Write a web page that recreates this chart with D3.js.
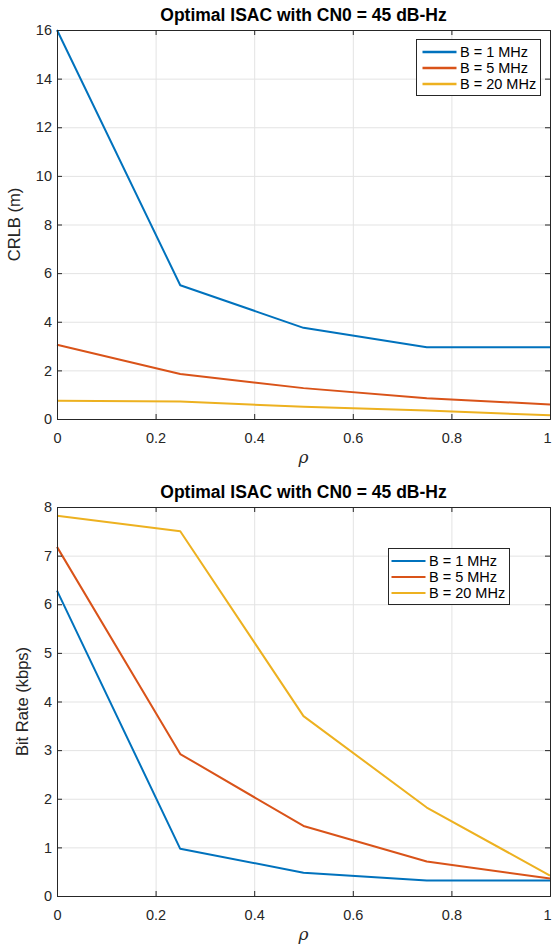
<!DOCTYPE html>
<html>
<head>
<meta charset="utf-8">
<script src="https://cdn.jsdelivr.net/npm/d3@7"></script>
<style>
  body { margin: 0; background: #fff; }
  svg { font-family: 'Liberation Sans', Arial, sans-serif; }
</style>
</head>
<body>
<svg id="chart" width="552" height="944"></svg>
<script>
// data
let rho = [0, 0.25, 0.5, 0.75, 1]
let seriesNames = ['B = 1 MHz', 'B = 5 MHz', 'B = 20 MHz']

let crlb1 = [16, 5.5, 3.75, 2.95, 2.95]
let crlb5 = [3.05, 1.85, 1.27, 0.85, 0.6]
let crlb20 = [0.75, 0.72, 0.5, 0.35, 0.15]

let rate1 = [6.28, 0.97, 0.48, 0.32, 0.32]
let rate5 = [7.18, 2.92, 1.44, 0.71, 0.36]
let rate20 = [7.82, 7.5, 3.7, 1.82, 0.42]

let xTicks = [0, 0.2, 0.4, 0.6, 0.8, 1]
let crlbTicks = [0, 2, 4, 6, 8, 10, 12, 14, 16]
let rateTicks = [0, 1, 2, 3, 4, 5, 6, 7, 8]

let titleText = 'Optimal ISAC with CN0 = 45 dB-Hz'
let colors = ['#0072BD', '#D95319', '#EDB120']

let svg = d3.select('#chart')

let left = 57
let right = 550
let width = right - left

let numFormat = d => (d === 0 || d === 1 ? String(d) : d3.format('.1f')(d))

function drawPanel(opts) {
  let height = opts.bottom - opts.top
  let g = svg.append('g').attr('transform', `translate(${left},${opts.top})`)

  let x = d3.scaleLinear().domain([0, 1]).range([0, width])
  let y = d3.scaleLinear().domain(opts.domain).range([height, 0])

  // grid
  g.append('g')
    .attr('class', 'grid')
    .attr('transform', `translate(0,${height})`)
    .call(d3.axisBottom(x).tickValues(xTicks).tickSize(-height).tickFormat(''))
  g.append('g')
    .attr('class', 'grid')
    .call(d3.axisLeft(y).tickValues(opts.ticks).tickSize(-width).tickFormat(''))
  g.selectAll('.grid .domain').remove()
  g.selectAll('.grid line').attr('stroke', '#e3e3e3').attr('stroke-width', 1)

  // lines
  let line = d3.line()
    .x((d, i) => x(rho[i]))
    .y(d => y(d))
  opts.series.forEach((s, i) => {
    g.append('path')
      .datum(s)
      .attr('d', line)
      .attr('fill', 'none')
      .attr('stroke', colors[i])
      .attr('stroke-width', 2)
      .attr('stroke-linejoin', 'round')
  })

  // axes, MATLAB style box with inward ticks
  let axes = [
    g.append('g').attr('transform', `translate(0,${height})`)
      .call(d3.axisBottom(x).tickValues(xTicks).tickSize(-5).tickPadding(14).tickFormat(numFormat)),
    g.append('g').call(d3.axisTop(x).tickValues(xTicks).tickSize(-5).tickFormat('')),
    g.append('g').call(d3.axisLeft(y).tickValues(opts.ticks).tickSize(-5).tickPadding(5)),
    g.append('g').attr('transform', `translate(${width},0)`)
      .call(d3.axisRight(y).tickValues(opts.ticks).tickSize(-5).tickFormat(''))
  ]
  axes.forEach(a => {
    a.selectAll('.domain').attr('stroke', '#262626')
    a.selectAll('line').attr('stroke', '#262626')
    a.selectAll('text').attr('fill', '#262626').attr('font-size', 14.5)
      .attr('font-family', "'Liberation Sans', Arial, sans-serif")
  })
  // keep the last x label inside the picture
  axes[0].selectAll('.tick text').filter(d => d === 1).attr('dx', -3)

  // title
  g.append('text')
    .attr('x', width / 2)
    .attr('y', -9)
    .attr('text-anchor', 'middle')
    .attr('font-size', 17.5)
    .attr('font-weight', 'bold')
    .attr('fill', '#000')
    .text(titleText)

  // x label
  g.append('text')
    .attr('x', width / 2)
    .attr('y', height + 44)
    .attr('text-anchor', 'middle')
    .attr('font-size', 17)
    .attr('font-style', 'italic')
    .attr('font-family', "'DejaVu Serif', serif")
    .attr('fill', '#262626')
    .text('ρ')

  // y label
  g.append('text')
    .attr('transform', `translate(${opts.yLabelX},${height / 2}) rotate(-90)`)
    .attr('text-anchor', 'middle')
    .attr('font-size', 16.5)
    .attr('fill', '#262626')
    .text(opts.yLabel)

  // legend
  let lg = svg.append('g').attr('transform', `translate(${opts.legend.x},${opts.legend.y})`)
  lg.append('rect')
    .attr('width', opts.legend.w)
    .attr('height', 56)
    .attr('fill', '#fff')
    .attr('stroke', '#262626')
    .attr('stroke-width', 1)
  seriesNames.forEach((name, i) => {
    let ry = 12.5 + i * 16
    lg.append('line')
      .attr('x1', opts.legend.lx1)
      .attr('x2', opts.legend.lx2)
      .attr('y1', ry)
      .attr('y2', ry)
      .attr('stroke', colors[i])
      .attr('stroke-width', opts.legend.sw)
    lg.append('text')
      .attr('x', opts.legend.tx)
      .attr('y', ry + 5)
      .attr('font-size', 14.5)
      .attr('fill', '#000')
      .text(name)
  })
}

drawPanel({
  top: 30,
  bottom: 419,
  domain: [0, 16],
  ticks: crlbTicks,
  series: [crlb1, crlb5, crlb20],
  yLabel: 'CRLB (m)',
  yLabelX: -37,
  legend: { x: 416.5, y: 39.5, w: 124, lx1: 6, lx2: 40, tx: 43.5, sw: 2.5 }
})

drawPanel({
  top: 507,
  bottom: 896,
  domain: [0, 8],
  ticks: rateTicks,
  series: [rate1, rate5, rate20],
  yLabel: 'Bit Rate (kbps)',
  yLabelX: -29,
  legend: { x: 388.5, y: 548.5, w: 121, lx1: 3, lx2: 37, tx: 40.5, sw: 2 }
})
</script>
</body>
</html>
